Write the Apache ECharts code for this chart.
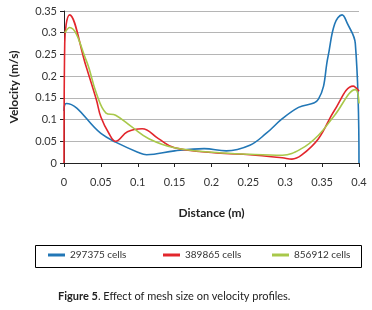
<!DOCTYPE html>
<html>
<head>
<meta charset="utf-8">
<script src="https://cdn.jsdelivr.net/npm/echarts@6/dist/echarts.min.js"></script>
<style>
  html, body { margin: 0; padding: 0; background: #fff; }
  #chart { width: 372px; height: 310px; }
</style>
</head>
<body>
<div id="chart"></div>
<script>
// values
var seriesNames = ['297375 cells', '389865 cells', '856912 cells'];

var blueX = [0, 0.003, 0.05, 0.07, 0.1, 0.112, 0.15, 0.19, 0.22, 0.252, 0.274, 0.296, 0.318, 0.345, 0.358, 0.367, 0.377, 0.384, 0.395, 0.4];
var blueY = [0.12, 0.137, 0.068, 0.048, 0.025, 0.019, 0.028, 0.033, 0.028, 0.041, 0.068, 0.102, 0.128, 0.147, 0.245, 0.32, 0.341, 0.322, 0.275, 0];

var redX = [0, 0.001, 0.0076, 0.03, 0.044, 0.05, 0.061, 0.07, 0.086, 0.106, 0.128, 0.15, 0.207, 0.252, 0.296, 0.309, 0.322, 0.345, 0.367, 0.392, 0.4];
var redY = [0, 0.276, 0.341, 0.222, 0.145, 0.106, 0.068, 0.05, 0.072, 0.079, 0.056, 0.035, 0.023, 0.019, 0.012, 0.009, 0.018, 0.056, 0.122, 0.177, 0.165];

var greenX = [0.001, 0.0076, 0.03, 0.044, 0.057, 0.07, 0.092, 0.115, 0.15, 0.207, 0.252, 0.296, 0.322, 0.345, 0.367, 0.395, 0.4];
var greenY = [0.3, 0.312, 0.237, 0.16, 0.115, 0.11, 0.083, 0.056, 0.035, 0.024, 0.02, 0.018, 0.033, 0.064, 0.11, 0.169, 0.137];

var colors = ['#2277b6', '#e2262c', '#a8c84a'];
var legendLeft = [48, 163, 272];

function pairs(xs, ys) {
  return xs.map(function (x, i) { return [x, ys[i]]; });
}

var chart = echarts.init(document.getElementById('chart'));
var font = 'Lato, "DejaVu Sans", sans-serif';

function line(name, xs, ys, color) {
  return {
    name: name,
    type: 'line',
    data: pairs(xs, ys),
    smooth: 0.4,
    showSymbol: false,
    lineStyle: { width: 1.6, color: color },
    itemStyle: { color: color }
  };
}

// one legend per item so each sits where it does in the figure
var legends = seriesNames.map(function (n, i) {
  return {
    left: legendLeft[i],
    top: 250,
    padding: 0,
    itemWidth: 17,
    itemHeight: 3,
    icon: 'rect',
    textStyle: { fontSize: 10, color: '#333', fontFamily: font },
    data: [n]
  };
});

chart.setOption({
  animation: false,
  textStyle: { fontFamily: font },
  grid: { left: 57, right: 13, top: 11, bottom: 147 },
  legend: legends,
  graphic: [
    {
      type: 'rect',
      shape: { x: 35.5, y: 245.5, width: 326, height: 22 },
      style: { fill: 'none', stroke: '#000', lineWidth: 1 }
    },
    {
      type: 'text',
      left: 58,
      top: 291,
      style: {
        text: '{b|Figure 5}. Effect of mesh size on velocity profiles.',
        fontSize: 11,
        fill: '#222',
        fontFamily: font,
        rich: { b: { fontWeight: 'bold', fontSize: 11, fill: '#222', fontFamily: font } }
      }
    }
  ],
  xAxis: {
    type: 'value',
    min: 0,
    max: 0.4,
    interval: 0.05,
    name: 'Distance (m)',
    nameLocation: 'middle',
    nameGap: 44,
    nameTextStyle: { fontSize: 12, fontWeight: 'bold', color: '#222' },
    axisLine: { lineStyle: { color: '#222', width: 1 } },
    axisTick: { show: true, length: 4, lineStyle: { color: '#222' } },
    axisLabel: { fontSize: 11, color: '#333', margin: 14 },
    splitLine: { show: false }
  },
  yAxis: {
    type: 'value',
    min: 0,
    max: 0.35,
    interval: 0.05,
    name: 'Velocity (m/s)',
    nameLocation: 'middle',
    nameGap: 44,
    nameTextStyle: { fontSize: 12, fontWeight: 'bold', color: '#222' },
    axisLine: { show: true, lineStyle: { color: '#222', width: 1 } },
    axisTick: { show: true, length: 4, lineStyle: { color: '#222' } },
    axisLabel: { fontSize: 11, color: '#333', margin: 7 },
    splitLine: { lineStyle: { color: '#b5b5b5', width: 1 } }
  },
  series: [
    line(seriesNames[0], blueX, blueY, colors[0]),
    line(seriesNames[1], redX, redY, colors[1]),
    line(seriesNames[2], greenX, greenY, colors[2])
  ]
});
</script>
</body>
</html>
